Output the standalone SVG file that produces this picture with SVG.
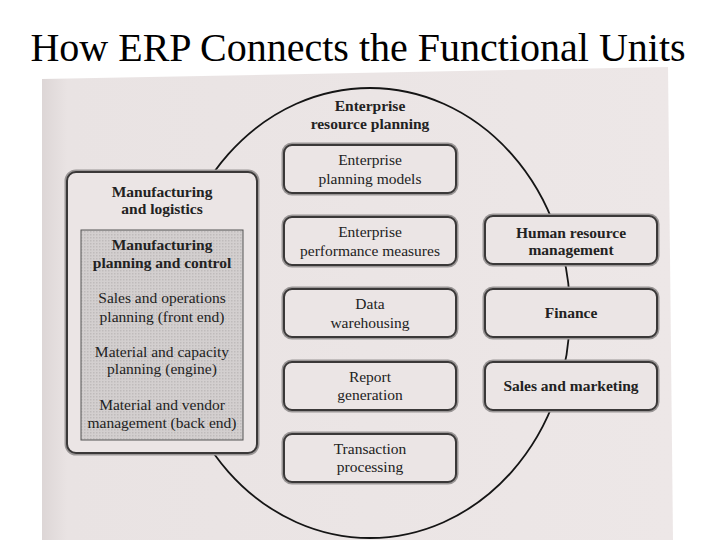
<svg xmlns="http://www.w3.org/2000/svg" width="720" height="540" viewBox="0 0 720 540">
<style>
.box{fill:#ebe5e5;stroke:#3a3838;stroke-width:2}
.halo{fill:none;stroke:#9a9696;stroke-width:5}
.t{font-family:"Liberation Serif","Times New Roman",serif;font-size:15.5px;fill:#222;text-anchor:middle}
.b{font-weight:bold}
</style>
<defs>
<linearGradient id="pg" x1="0" y1="0" x2="1" y2="0">
<stop offset="0" stop-color="#ddd6d6"/>
<stop offset="0.04" stop-color="#e9e3e3"/>
<stop offset="1" stop-color="#ede7e7"/>
</linearGradient>
<pattern id="dots" width="3" height="3" patternUnits="userSpaceOnUse">
<rect width="3" height="3" fill="#d3cfcf"/>
<rect width="1.5" height="1.5" fill="#bfbbbb"/>
</pattern>
</defs>
<rect width="720" height="540" fill="#ffffff"/>
<text x="358" y="61" font-family="Liberation Serif,'Times New Roman',serif" font-size="40" fill="#000" text-anchor="middle">How ERP Connects the Functional Units</text>
<polygon points="42,79 668,67 673,540 42,540" fill="url(#pg)"/>
<g id="connectors">
<ellipse cx="370" cy="313" rx="200" ry="225" fill="none" stroke="#151515" stroke-width="1.8"/>
</g>
<g id="erp">
<text class="t b" x="370" y="111">Enterprise</text>
<text class="t b" x="370" y="129">resource planning</text>
</g>
<g id="manufacturing">
<rect class="halo" x="67" y="172" width="190" height="281" rx="9"/>
<rect class="box" x="67" y="172" width="190" height="281" rx="9"/>
<text class="t b" x="162" y="197">Manufacturing</text>
<text class="t b" x="162" y="214">and logistics</text>
<g id="mpc">
<rect x="81" y="230" width="162" height="210" fill="url(#dots)" stroke="#555" stroke-width="1"/>
<text class="t b" x="162" y="250">Manufacturing</text>
<text class="t b" x="162" y="268">planning and control</text>
<text class="t" x="162" y="303">Sales and operations</text>
<text class="t" x="162" y="322">planning (front end)</text>
<text class="t" x="162" y="357">Material and capacity</text>
<text class="t" x="162" y="374">planning (engine)</text>
<text class="t" x="162" y="410">Material and vendor</text>
<text class="t" x="162" y="428">management (back end)</text>
</g>
</g>
<g id="planning-models">
<rect class="halo" x="284" y="145" width="172" height="48" rx="8"/>
<rect class="box" x="284" y="145" width="172" height="48" rx="8"/>
<text class="t" x="370" y="165">Enterprise</text>
<text class="t" x="370" y="184">planning models</text>
</g>
<g id="performance-measures">
<rect class="halo" x="284" y="217" width="172" height="48" rx="8"/>
<rect class="box" x="284" y="217" width="172" height="48" rx="8"/>
<text class="t" x="370" y="237">Enterprise</text>
<text class="t" x="370" y="256">performance measures</text>
</g>
<g id="data-warehousing">
<rect class="halo" x="284" y="289" width="172" height="48" rx="8"/>
<rect class="box" x="284" y="289" width="172" height="48" rx="8"/>
<text class="t" x="370" y="309">Data</text>
<text class="t" x="370" y="328">warehousing</text>
</g>
<g id="report-generation">
<rect class="halo" x="284" y="362" width="172" height="48" rx="8"/>
<rect class="box" x="284" y="362" width="172" height="48" rx="8"/>
<text class="t" x="370" y="382">Report</text>
<text class="t" x="370" y="400">generation</text>
</g>
<g id="transaction-processing">
<rect class="halo" x="284" y="434" width="172" height="48" rx="8"/>
<rect class="box" x="284" y="434" width="172" height="48" rx="8"/>
<text class="t" x="370" y="454">Transaction</text>
<text class="t" x="370" y="472">processing</text>
</g>
<g id="hr">
<rect class="halo" x="485" y="216" width="172" height="48" rx="8"/>
<rect class="box" x="485" y="216" width="172" height="48" rx="8"/>
<text class="t b" x="571" y="238">Human resource</text>
<text class="t b" x="571" y="255">management</text>
</g>
<g id="finance">
<rect class="halo" x="485" y="289" width="172" height="48" rx="8"/>
<rect class="box" x="485" y="289" width="172" height="48" rx="8"/>
<text class="t b" x="571" y="318">Finance</text>
</g>
<g id="sales">
<rect class="halo" x="485" y="362" width="172" height="48" rx="8"/>
<rect class="box" x="485" y="362" width="172" height="48" rx="8"/>
<text class="t b" x="571" y="391">Sales and marketing</text>
</g>
</svg>
